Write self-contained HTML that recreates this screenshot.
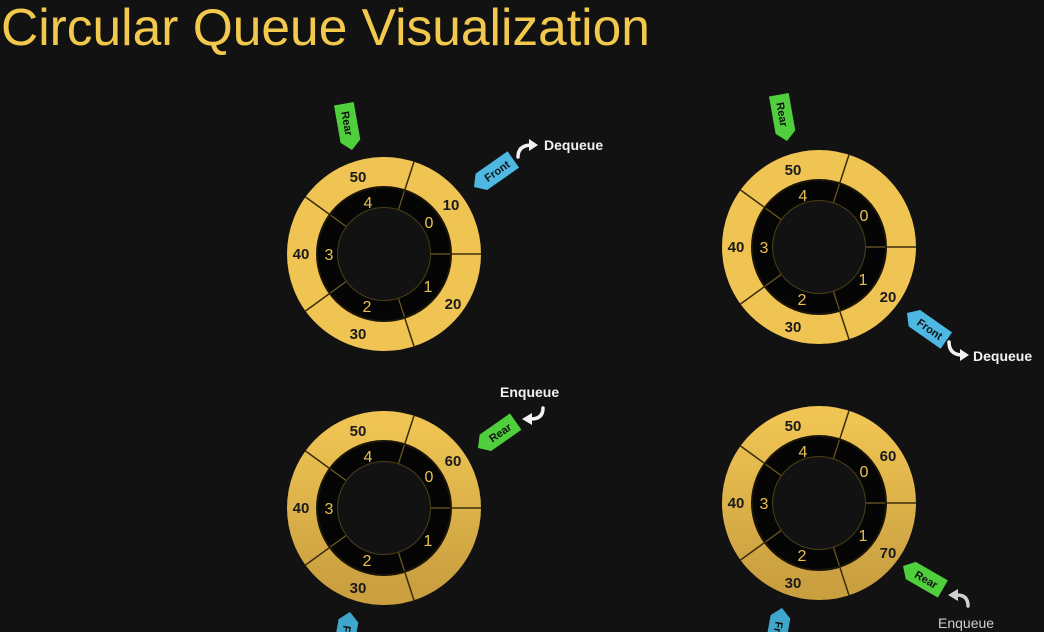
<!DOCTYPE html>
<html><head><meta charset="utf-8"><style>
html,body{margin:0;padding:0;background:#121212;}
body{width:1044px;height:632px;overflow:hidden;position:relative;}
svg{position:absolute;left:0;top:0;}
</style></head><body>
<svg width="1044" height="632" viewBox="0 0 1044 632" font-family="Liberation Sans, sans-serif">
<defs>
<linearGradient id="g2" x1="0" y1="0" x2="0" y2="1"><stop offset="0" stop-color="#efc453"/><stop offset="1" stop-color="#c99f40"/></linearGradient>
<g id="ringA">
 <circle r="82" fill="none" stroke="#f0c452" stroke-width="30"/>
 <circle r="57" fill="none" stroke="#050505" stroke-width="21"/>
 <circle r="67" fill="none" stroke="#1c1608" stroke-width="2"/>
 <circle r="46.5" fill="none" stroke="#4a3f18" stroke-width="1"/>
 <g stroke="#3a2c0c" stroke-width="1.5">
  <line x1="67" y1="0" x2="97" y2="0"/><line x1="67" y1="0" x2="97" y2="0" transform="rotate(72)"/><line x1="67" y1="0" x2="97" y2="0" transform="rotate(144)"/><line x1="67" y1="0" x2="97" y2="0" transform="rotate(216)"/><line x1="67" y1="0" x2="97" y2="0" transform="rotate(288)"/>
 </g>
 <g stroke="#6e5c22" stroke-width="1.2">
  <line x1="47" y1="0" x2="66" y2="0"/><line x1="47" y1="0" x2="66" y2="0" transform="rotate(72)"/><line x1="47" y1="0" x2="66" y2="0" transform="rotate(144)"/><line x1="47" y1="0" x2="66" y2="0" transform="rotate(216)"/><line x1="47" y1="0" x2="66" y2="0" transform="rotate(288)"/>
 </g>
</g>
<g id="ringB">
 <circle r="82" fill="none" stroke="url(#g2)" stroke-width="30"/>
 <circle r="57" fill="none" stroke="#050505" stroke-width="21"/>
 <circle r="67" fill="none" stroke="#1c1608" stroke-width="2"/>
 <circle r="46.5" fill="none" stroke="#4a3f18" stroke-width="1"/>
 <g stroke="#3a2c0c" stroke-width="1.5">
  <line x1="67" y1="0" x2="97" y2="0"/><line x1="67" y1="0" x2="97" y2="0" transform="rotate(72)"/><line x1="67" y1="0" x2="97" y2="0" transform="rotate(144)"/><line x1="67" y1="0" x2="97" y2="0" transform="rotate(216)"/><line x1="67" y1="0" x2="97" y2="0" transform="rotate(288)"/>
 </g>
 <g stroke="#6e5c22" stroke-width="1.2">
  <line x1="47" y1="0" x2="66" y2="0"/><line x1="47" y1="0" x2="66" y2="0" transform="rotate(72)"/><line x1="47" y1="0" x2="66" y2="0" transform="rotate(144)"/><line x1="47" y1="0" x2="66" y2="0" transform="rotate(216)"/><line x1="47" y1="0" x2="66" y2="0" transform="rotate(288)"/>
 </g>
</g>
<g id="idx" fill="#e9c052" font-size="16" text-anchor="middle">
 <text x="45" y="-26">0</text><text x="44" y="38">1</text><text x="-17" y="58">2</text><text x="-55" y="6">3</text><text x="-16" y="-46">4</text>
</g>
</defs>

<text x="1" y="45" fill="#f2c94c" font-size="51.5">Circular Queue Visualization</text>

<!-- TL -->
<g transform="translate(384,254)">
 <use href="#ringA"/><use href="#idx"/>
 <g font-size="15" font-weight="bold" fill="#1a1a1a" text-anchor="middle">
  <text x="67" y="-44">10</text><text x="69" y="55">20</text><text x="-26" y="85">30</text><text x="-83" y="5">40</text><text x="-26" y="-72">50</text>
 </g>
</g>
<!-- TR -->
<g transform="translate(819,247)">
 <use href="#ringA"/><use href="#idx"/>
 <g font-size="15" font-weight="bold" fill="#1a1a1a" text-anchor="middle">
  <text x="69" y="55">20</text><text x="-26" y="85">30</text><text x="-83" y="5">40</text><text x="-26" y="-72">50</text>
 </g>
</g>
<!-- BL -->
<g transform="translate(384,508)">
 <use href="#ringB"/><use href="#idx"/>
 <g font-size="15" font-weight="bold" fill="#1a1a1a" text-anchor="middle">
  <text x="69" y="-42">60</text><text x="-26" y="85">30</text><text x="-83" y="5">40</text><text x="-26" y="-72">50</text>
 </g>
</g>
<!-- BR -->
<g transform="translate(819,503)">
 <use href="#ringB"/><use href="#idx"/>
 <g font-size="15" font-weight="bold" fill="#1a1a1a" text-anchor="middle">
  <text x="69" y="-42">60</text><text x="69" y="55">70</text><text x="-26" y="85">30</text><text x="-83" y="5">40</text><text x="-26" y="-72">50</text>
 </g>
</g>

<!-- tags -->
<g font-size="11" font-weight="bold" fill="#111" text-anchor="middle">
 <g transform="translate(352,150) rotate(-100)"><polygon points="0,0 9,-10 47,-10 47,10 9,10" fill="#4fcf3c"/><text x="27" y="4" transform="rotate(180 27 0)">Rear</text></g>
 <g transform="translate(474,187) rotate(-35)"><polygon points="0,0 9,-10 48,-10 48,10 9,10" fill="#4db9e2"/><text x="28" y="4">Front</text></g>
 <g transform="translate(787,141) rotate(-100)"><polygon points="0,0 9,-10 47,-10 47,10 9,10" fill="#4fcf3c"/><text x="27" y="4" transform="rotate(180 27 0)">Rear</text></g>
 <g transform="translate(907,313) rotate(35)"><polygon points="0,0 9,-10 48,-10 48,10 9,10" fill="#4db9e2"/><text x="28" y="4">Front</text></g>
 <g transform="translate(478,448) rotate(-35)"><polygon points="0,0 9,-10 46,-10 46,10 9,10" fill="#4fcf3c"/><text x="27" y="4">Rear</text></g>
 <g transform="translate(350,612) rotate(100)"><polygon points="0,0 9,-10 48,-10 48,10 9,10" fill="#3fa6cc"/><text x="28" y="4">Front</text></g>
 <g transform="translate(903,566) rotate(30)"><polygon points="0,0 9,-10 46,-10 46,10 9,10" fill="#4fcf3c"/><text x="27" y="4">Rear</text></g>
 <g transform="translate(782,608) rotate(100)"><polygon points="0,0 9,-10 48,-10 48,10 9,10" fill="#3fa6cc"/><text x="28" y="4">Front</text></g>
</g>

<g font-size="14" font-weight="bold" fill="#f2f2f2">
 <text x="544" y="150">Dequeue</text>
 <text x="973" y="361">Dequeue</text>
 <text x="500" y="397">Enqueue</text>
 <text x="938" y="628" fill="#cfcfcf" font-weight="normal">Enqueue</text>
</g>
<g fill="none" stroke="#f2f2f2" stroke-width="3.5" stroke-linecap="round">
 <path d="M518,157 Q518,146 530,145"/>
 <path d="M949,342 Q949,354 961,355"/>
 <path d="M543,408 Q543,419 531,419"/>
 <path d="M968,606 Q968,595 957,595" stroke="#cfcfcf"/>
</g>
<g fill="#f2f2f2">
 <polygon points="529,139 538,145 529,151"/>
 <polygon points="960,349 969,355 960,361"/>
 <polygon points="532,413 522,419 532,425"/>
 <polygon points="958,589 948,595 958,601" fill="#cfcfcf"/>
</g>
</svg>
</body></html>
